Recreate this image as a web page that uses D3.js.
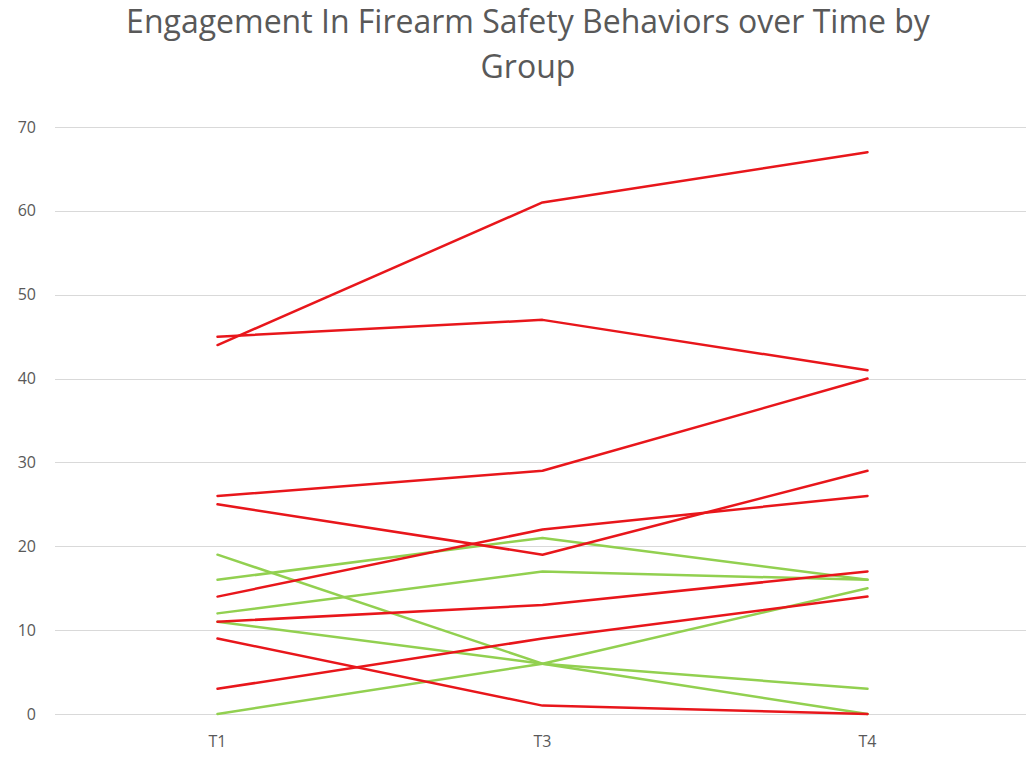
<!DOCTYPE html>
<html>
<head>
<meta charset="utf-8">
<script src="https://cdn.jsdelivr.net/npm/d3@7"></script>
<style>
  html, body { margin: 0; padding: 0; background: #ffffff; }
  svg { display: block; }
</style>
</head>
<body>
<svg id="chart" width="1026" height="761"></svg>
<script>
// ---- data ----
const categories = ["T1", "T3", "T4"];
const yTicks = [0, 10, 20, 30, 40, 50, 60, 70];
const titleLines = ["Engagement In Firearm Safety Behaviors over Time by", "Group"];

// red group (one array per participant: T1, T3, T4)
const red1 = [44, 61, 67];
const red2 = [45, 47, 41];
const red3 = [26, 29, 40];
const red4 = [25, 19, 29];
const red5 = [14, 22, 26];
const red6 = [11, 13, 17];
const red7 = [9, 1, 0];
const red8 = [3, 9, 14];

// green group
const green1 = [19, 6, 0];
const green2 = [16, 21, 16];
const green3 = [12, 17, 16];
const green4 = [11, 6, 3];
const green5 = [0, 6, 15];

const greenSeries = [green1, green2, green3, green4, green5];
const redSeries = [red1, red2, red3, red4, red5, red6, red7, red8];

const RED = "#e8161b";
const GREEN = "#92d050";

// ---- chart ----
const svg = d3.select("#chart");

const x = d3.scaleBand().domain(categories).range([55, 1030]).padding(0);
const y = d3.scaleLinear().domain([0, 70]).range([714, 127]);

// gridlines
svg.append("g")
  .selectAll("line")
  .data(yTicks)
  .join("line")
  .attr("x1", 55)
  .attr("x2", 1026)
  .attr("y1", d => Math.round(y(d)) + 0.5)
  .attr("y2", d => Math.round(y(d)) + 0.5)
  .attr("stroke", "#d9d9d9")
  .attr("stroke-width", 1);

// y axis labels
const yAxis = d3.axisLeft(y).tickValues(yTicks).tickSize(0).tickPadding(0);
const gy = svg.append("g").attr("transform", "translate(36,0)").call(yAxis);
gy.select(".domain").remove();
gy.selectAll("text")
  .attr("fill", "#595959")
  .style("font-family", "'Open Sans', sans-serif")
  .style("font-size", "16px");

// x axis labels
const xAxis = d3.axisBottom(x).tickSize(0).tickPadding(0);
const gx = svg.append("g").attr("transform", "translate(0,736)").call(xAxis);
gx.select(".domain").remove();
gx.selectAll("text")
  .attr("fill", "#595959")
  .style("font-family", "'Open Sans', sans-serif")
  .style("font-size", "16px");

// lines
const line = d3.line()
  .x((d, i) => x(categories[i]) + x.bandwidth() / 2)
  .y(d => y(d));

const all = [];
greenSeries.forEach(s => all.push({ values: s, color: GREEN }));
redSeries.forEach(s => all.push({ values: s, color: RED }));

svg.append("g")
  .selectAll("path")
  .data(all)
  .join("path")
  .attr("d", d => line(d.values))
  .attr("fill", "none")
  .attr("stroke", d => d.color)
  .attr("stroke-width", 2.5)
  .attr("stroke-linejoin", "round")
  .attr("stroke-linecap", "round");

// title
const title = svg.append("text")
  .attr("text-anchor", "middle")
  .attr("fill", "#595959")
  .style("font-family", "'Open Sans', sans-serif")
  .style("font-size", "28px");
title.selectAll("tspan")
  .data(titleLines)
  .join("tspan")
  .attr("x", 528)
  .attr("y", (d, i) => 33 + i * 45)
  .text(d => d);
// fit first line width to ~812px
const firstLen = title.select("tspan").node().getComputedTextLength();
const fs = 28 * 812 / firstLen;
title.style("font-size", Math.min(32, fs) + "px");
</script>
</body>
</html>
